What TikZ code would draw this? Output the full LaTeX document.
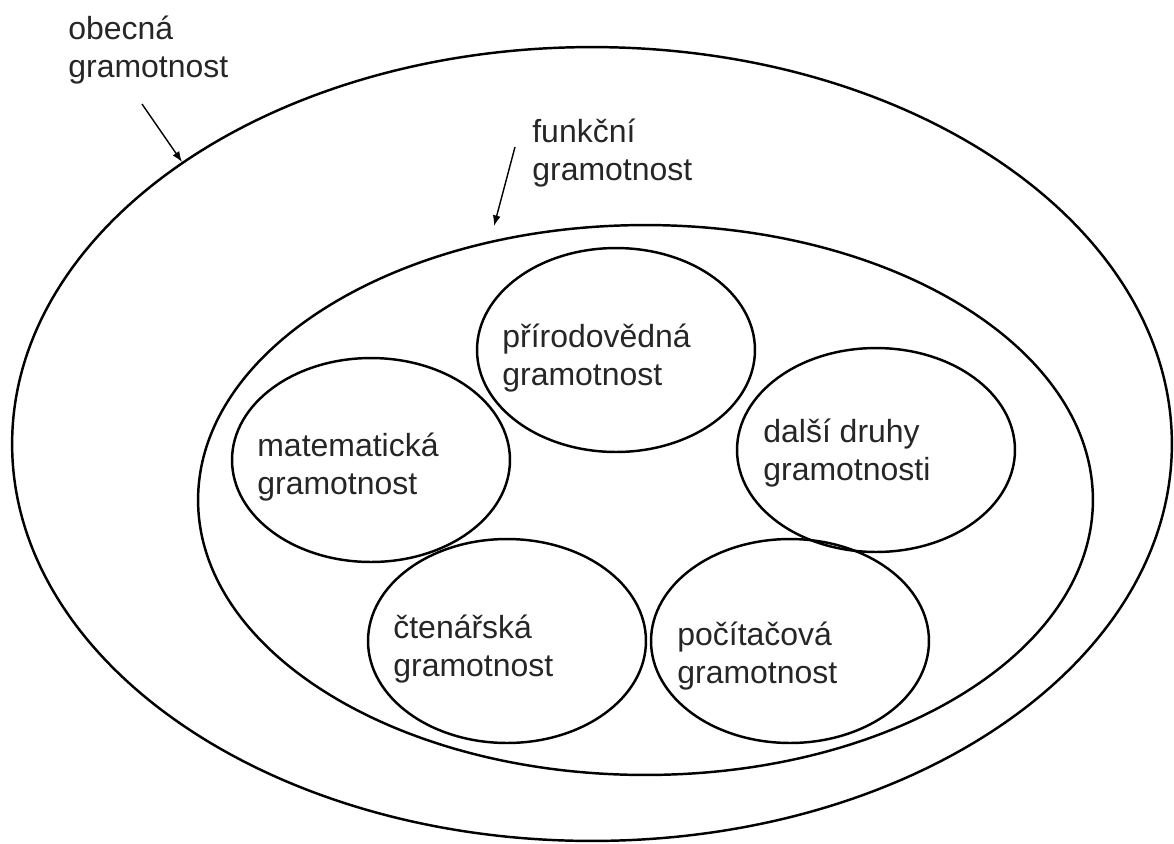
\documentclass[tikz,border=0pt]{standalone}
\usepackage{fontspec}
\setmainfont{Liberation Sans}
\usetikzlibrary{shapes.geometric,arrows.meta}
\begin{document}
\begin{tikzpicture}[x=0.02cm,y=-0.02cm,
  ring/.style={draw,ellipse,line width=1.4pt,inner sep=0pt,outer sep=0pt},
  small/.style={ring,minimum width=5.56cm,minimum height=4.08cm},
  lbl/.style={anchor=base west,inner sep=0pt,align=left,font=\fontsize{18.2}{21.6}\selectfont,text=black!85},
  pointer/.style={line width=0.8pt,-{Latex[length=6pt,width=4.5pt]}}]
\useasboundingbox (0,0) rectangle (1174,843);
\node[ring,minimum width=23.2cm,minimum height=15.88cm] (outer) at (592,444) {};
\node[ring,minimum width=17.9cm,minimum height=11cm] (inner) at (645.5,500) {};
\node[small] (prir) at (616,350) {};
\node[small] (mat) at (371,460) {};
\node[small] (dalsi) at (876,450) {};
\node[small] (cten) at (507,641) {};
\node[small] (poc) at (790,641) {};
\node[lbl] (tobec) at (68,77) {obecná\\gramotnost};
\node[lbl] (tfunk) at (532,180) {funkční\\gramotnost};
\node[lbl] (tprir) at (502,385) {přírodovědná\\gramotnost};
\node[lbl] (tmat) at (257,494) {matematická\\gramotnost};
\node[lbl] (tdalsi) at (763,480) {další druhy\\gramotnosti};
\node[lbl] (tcten) at (393,676) {čtenářská\\gramotnost};
\node[lbl] (tpoc) at (677,683) {počítačová\\gramotnost};
\coordinate (a1s) at (142,104);
\coordinate (a1e) at (182,162);
\coordinate (a2s) at (515,147);
\coordinate (a2e) at (494,226);
\draw[pointer] (a1s) -- (a1e);
\draw[pointer] (a2s) -- (a2e);
\end{tikzpicture}
\end{document}
